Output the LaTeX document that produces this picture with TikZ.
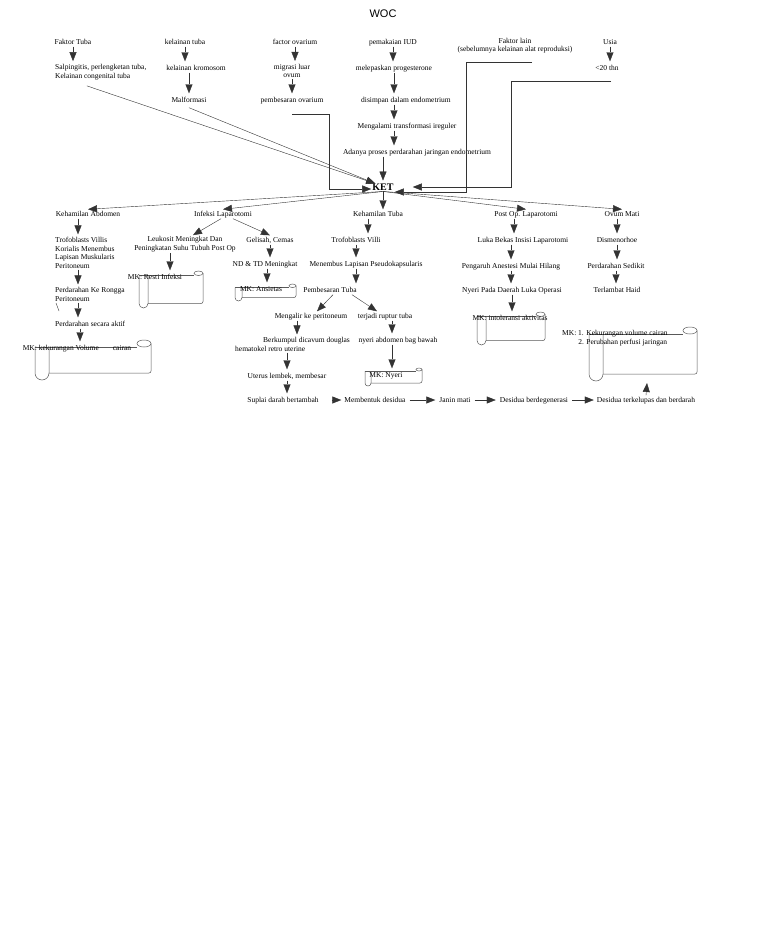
\documentclass[tikz,border=0pt]{standalone}
\usepackage{fontspec}
\setmainfont{Liberation Serif}
\setsansfont{Liberation Sans}
\usetikzlibrary{arrows.meta}

% scroll: x1 y1 x2 y2 roll width
\newcommand{\mkscroll}[5]{%
  \draw[scrl] (#1,#2+#5/2) -- (#1,#4-#5/2) arc[start angle=180,end angle=360,radius=#5pt/2] -- (#1+#5,#2+#5/2);
  \draw[scrl] (#1,#2+#5/2) -- (#3-#5,#2+#5/2);
  \draw[scrl] (#3-#5/2,#2+#5/4) ellipse[x radius=#5pt/2,y radius=#5pt/4];
  \draw[scrl,rounded corners=2pt] (#3,#2+#5/4) -- (#3,#4-#5/2) -- (#1+#5,#4-#5/2);
}

\begin{document}
\begin{tikzpicture}[x=1pt,y=-1pt,
    lbl/.style={font=\fontsize{7.5}{8.5}\selectfont,inner sep=1pt,text height=5.5pt,text depth=1.5pt},
    ml/.style={font=\fontsize{7.5}{8.5}\selectfont,inner sep=1pt,align=left},
    mc/.style={font=\fontsize{7.5}{8.5}\selectfont,inner sep=1pt,align=center},
    arr/.style={draw=black!80,line width=0.4pt,-{Triangle[width=7pt,length=9pt]}},
    dn/.style={arr,shorten >=2pt},
    scrl/.style={draw=black!65,line width=0.5pt}]
  \fill[white] (0,0) rectangle (768,932);
  \useasboundingbox (0,0) rectangle (768,932);

  \node[font=\sffamily\fontsize{11}{13}\selectfont] (woc) at (383,14) {WOC};

  \node[lbl] (ft) at (73,42) {Faktor Tuba};
  \node[lbl] (kt) at (185,42) {kelainan tuba};
  \node[lbl] (fo) at (295,42) {factor ovarium};
  \node[lbl] (iud) at (393,42) {pemakaian IUD};
  \node[mc] (fl) at (515,45.5) {Faktor lain\\(sebelumnya kelainan alat reproduksi)};
  \node[lbl] (usia) at (610,42) {Usia};

  \node[ml,anchor=west] (salp) at (54,72) {Salpingitis, perlengketan tuba,\\Kelainan congenital tuba};
  \node[lbl] (krom) at (196,68) {kelainan kromosom};
  \node[mc] (migr) at (292,71) {migrasi luar\\ovum};
  \node[lbl] (prog) at (394,68) {melepaskan progesterone};
  \node[lbl] (umur) at (607,68) {<20 thn};

  \node[lbl] (malf) at (189,100) {Malformasi};
  \node[lbl] (pbov) at (292,100) {pembesaran ovarium};
  \node[lbl] (simp) at (406,100) {disimpan dalam endometrium};
  \node[lbl] (tran) at (407,126) {Mengalami transformasi ireguler};
  \node[lbl] (darah) at (417,152) {Adanya proses perdarahan jaringan endometrium};
  \node[font=\bfseries\fontsize{10}{12}\selectfont,inner sep=1pt] (ket) at (383,187) {KET};

  \node[lbl] (abd) at (88,214) {Kehamilan Abdomen};
  \node[lbl] (infl) at (223,214) {Infeksi Laparotomi};
  \node[lbl] (tuba) at (378,214) {Kehamilan Tuba};
  \node[lbl] (post) at (526,214) {Post Op. Laparotomi};
  \node[lbl] (ovm) at (622,214) {Ovum Mati};

  \node[ml,anchor=west] (trof) at (54,253) {Trofoblasts Villis\\Korialis Menembus\\Lapisan Muskularis\\Peritoneum};
  \node[mc] (leuk) at (185,244) {Leukosit Meningkat Dan\\Peningkatan Suhu Tubuh Post Op};
  \node[lbl] (gel) at (270,240) {Gelisah, Cemas};
  \node[lbl] (villi) at (356,240) {Trofoblasts Villi};
  \node[lbl] (luka) at (523,240) {Luka Bekas Insisi Laparotomi};
  \node[lbl] (dism) at (617,240) {Dismenorhoe};

  \node[lbl] (ndtd) at (265,264) {ND \& TD Meningkat};
  \node[lbl] (tembus) at (366,264) {Menembus Lapisan Pseudokapsularis};
  \node[lbl] (anest) at (511,266) {Pengaruh Anestesi Mulai Hilang};
  \node[lbl] (sedikit) at (616,266) {Perdarahan Sedikit};

  \node[ml,anchor=west] (rongga) at (54,294.5) {Perdarahan Ke Rongga\\Peritoneum};
  \node[lbl] (besar) at (330,290) {Pembesaran Tuba};
  \node[lbl] (nyluka) at (512,290) {Nyeri Pada Daerah Luka Operasi};
  \node[lbl] (haid) at (617,290) {Terlambat Haid};
  \draw[black!80,line width=0.4pt] (56,303) -- (59,311);

  \node[lbl,anchor=west] (aktif) at (54,324) {Perdarahan secara aktif};
  \node[lbl] (alir) at (311,316) {Mengalir ke peritoneum};
  \node[lbl] (rupt) at (385,316) {terjadi ruptur tuba};
  \node[ml,anchor=west] (cavum) at (234,344.5) {\hspace*{28pt}Berkumpul dicavum douglas\\hematokel retro uterine};
  \node[lbl] (nyabd) at (398,340) {nyeri abdomen bag bawah};
  \node[lbl] (uterus) at (287,376) {Uterus lembek, membesar};

  \node[lbl] (suplai) at (283,400) {Suplai darah bertambah};
  \node[lbl] (bentuk) at (375,400) {Membentuk desidua};
  \node[lbl] (janin) at (455,400) {Janin mati};
  \node[lbl] (degen) at (534,400) {Desidua berdegenerasi};
  \node[lbl] (kelupas) at (646,400) {Desidua terkelupas dan berdarah};

  \mkscroll{139}{271}{203}{308}{9}
  \node[lbl] (mkinf) at (155,277) {MK: Resti Infeksi};
  \mkscroll{235}{284}{296}{301}{7}
  \node[lbl] (mkcem) at (261,289) {MK: Ansietas};
  \mkscroll{35}{340}{151}{380}{14}
  \node[lbl] (mkvol) at (77,348) {MK: kekurangan Volume\hspace{14pt}cairan};
  \mkscroll{365}{368}{422}{386}{6}
  \node[lbl] (mknyeri) at (386,375) {MK: Nyeri};
  \mkscroll{477}{312}{545}{345}{9}
  \node[lbl] (mkakt) at (510,318) {MK: intoleransi aktivitas};
  \mkscroll{589}{327}{697}{381}{14}
  \node[ml,anchor=west] (mkperf) at (561,338) {MK: 1. Kekurangan volume cairan\\\phantom{MK: }2. Perubahan perfusi jaringan};
  \coordinate (perfbot) at (647,383);

  \draw[dn] (ft.south) -- (ft.south |- salp.north);
  \draw[dn] (kt.south) -- (kt.south |- krom.north);
  \draw[dn] (malf.north |- krom.south) -- (malf.north);
  \draw[dn] (fo.south) -- (fo.south |- migr.north);
  \draw[dn] (migr.south) -- (migr.south |- pbov.north);
  \draw[dn] (iud.south) -- (iud.south |- prog.north);
  \draw[dn] (prog.south) -- (prog.south |- simp.north);
  \draw[dn] (simp.south -| prog.south) -- (tran.north -| prog.south);
  \draw[dn] (tran.south -| prog.south) -- (darah.north -| prog.south);
  \draw[dn] (darah.south -| ket.north) -- (ket.north);
  \draw[dn] (usia.south) -- (usia.south |- umur.north);

  \draw[arr] ([xshift=-14pt,yshift=-5pt]salp.south) -- ([xshift=4pt,yshift=-1pt]ket.north west);
  \draw[arr] ([yshift=-3pt]malf.south) -- ([xshift=4pt,yshift=-1pt]ket.north west);
  \draw[arr] ([yshift=-9pt]pbov.south) -- ++(37,0) |- ([yshift=-2pt]ket.west);
  \draw[arr] ([xshift=17pt,yshift=-8pt]fl.south) -- ++(-66,0) |- ([yshift=-5pt]ket.east);
  \draw[arr] ([xshift=4pt,yshift=-8pt]umur.south) -- ++(-100,0) |- ([xshift=18pt]ket.east);

  \draw[arr] (ket.south) -- (abd.north);
  \draw[arr] (ket.south) -- (infl.north);
  \draw[arr] (ket.south) -- (tuba.north -| ket.south);
  \draw[arr] (ket.south) -- (post.north);
  \draw[arr] (ket.south) -- (ovm.north);

  \draw[dn] ([xshift=-10pt]abd.south) -- ([xshift=-10pt]abd.south |- trof.north);
  \draw[dn] ([xshift=-10pt]abd.south |- trof.south) -- ([xshift=-10pt]abd.south |- rongga.north);
  \draw[dn] ([xshift=-10pt]abd.south |- rongga.south) -- ([xshift=-10pt]abd.south |- aktif.north);
  \draw[dn] ([xshift=-8pt]abd.south |- aktif.south) -- ([xshift=-8pt]abd.south |- mkvol.north);

  \draw[arr] ([xshift=-2pt]infl.south) -- ([xshift=8pt]leuk.north);
  \draw[arr] ([xshift=10pt]infl.south) -- (gel.north);
  \draw[dn] ([xshift=-15pt]leuk.south) -- ([xshift=-15pt]leuk.south |- mkinf.north);
  \draw[dn] (gel.south) -- (gel.south |- ndtd.north);
  \draw[dn] ([xshift=2pt]ndtd.south) -- ([xshift=2pt]ndtd.south |- mkcem.north);

  \draw[dn] ([xshift=-10pt]tuba.south) -- ([xshift=-10pt]tuba.south |- villi.north);
  \draw[dn] (villi.south) -- (villi.south |- tembus.north);
  \draw[dn] (tembus.south -| villi.south) -- (besar.north -| villi.south);
  \draw[arr] ([xshift=3pt]besar.south) -- ([xshift=6pt]alir.north);
  \draw[arr] ([xshift=22pt]besar.south) -- ([xshift=-8pt]rupt.north);
  \draw[dn] ([xshift=-14pt]alir.south) -- ([xshift=-14pt]alir.south |- cavum.north);
  \draw[dn] (uterus.north |- cavum.south) -- (uterus.north);
  \draw[dn] (uterus.south) -- (uterus.south |- suplai.north);
  \draw[dn] ([xshift=7pt]rupt.south) -- ([xshift=7pt]rupt.south |- nyabd.north);
  \draw[dn] ([xshift=-6pt]nyabd.south) -- ([xshift=-6pt]nyabd.south |- mknyeri.north);

  \draw[dn] ([xshift=-12pt]post.south) -- ([xshift=-12pt]post.south |- luka.north);
  \draw[dn] (anest.north |- luka.south) -- (anest.north);
  \draw[dn] (anest.south) -- (anest.south |- nyluka.north);
  \draw[dn] (nyluka.south) -- (nyluka.south |- mkakt.north);
  \draw[dn] (dism.north |- ovm.south) -- (dism.north);
  \draw[dn] (dism.south) -- (dism.south |- sedikit.north);
  \draw[dn] (sedikit.south) -- (sedikit.south |- haid.north);

  \draw[arr,shorten <=12pt,shorten >=2pt] (suplai.east) -- (bentuk.west);
  \draw[arr,shorten <=3pt,shorten >=3pt] (bentuk.east) -- (janin.west);
  \draw[arr,shorten <=3pt,shorten >=3pt] (janin.east) -- (degen.west);
  \draw[arr,shorten <=3pt,shorten >=2pt] (degen.east) -- (kelupas.west);
  \draw[arr] (kelupas.north) -- (perfbot);
\end{tikzpicture}
\end{document}
